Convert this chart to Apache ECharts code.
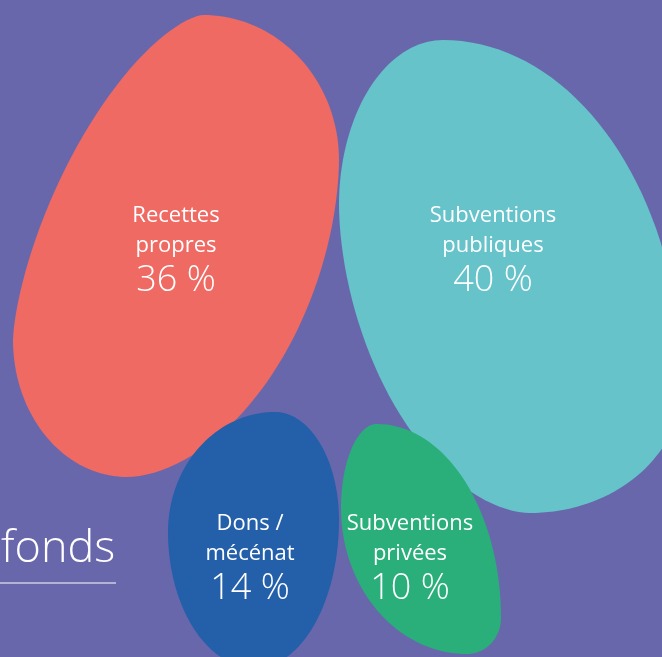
<!DOCTYPE html>
<html>
<head>
<meta charset="utf-8">
<script src="https://cdn.jsdelivr.net/npm/echarts@6/dist/echarts.min.js"></script>
<style>
  html, body { margin: 0; padding: 0; background: #6967ac; }
  #chart { width: 662px; height: 657px; }
</style>
</head>
<body>
<div id="chart"></div>
<script>
// data
const categories = ['Recettes propres', 'Subventions publiques', 'Dons / mécénat', 'Subventions privées'];
const labelLines = [['Recettes', 'propres'], ['Subventions', 'publiques'], ['Dons /', 'mécénat'], ['Subventions', 'privées']];
const shares = [36, 40, 14, 10];

// look
const colors = ['#ee6a63', '#65c3c9', '#2360a9', '#2aae7a'];
// blob outlines in axis units: extreme points (top, right, bottom, left) joined by
// quarter superellipses (roundness per quarter: top-right, right-bottom, bottom-left, left-top)
const blobs = [
  { top: [203, 15], right: [339, 160], bottom: [127, 477], left: [13, 340], round: [2, 1.8, 2, 1.5], label: [176, 252] },
  { top: [443, 40], right: [682, 385], bottom: [530, 513], left: [339, 205], round: [2, 2, 1.8, 2], label: [493, 252] },
  { top: [275, 412], right: [339, 520], bottom: [255, 668], left: [168, 532], round: [2, 2, 2, 2], label: [250, 560] },
  { top: [377, 424], right: [501, 618], bottom: [467, 654], left: [341, 508], round: [2, 2, 2, 2], label: [410, 560] },
];

const chart = echarts.init(document.getElementById('chart'));

// quarter curve from V (horizontal tangent) to H (vertical tangent)
function quarter(V, H, n, reverse, api, out) {
  const steps = 40;
  const e = 2 / n;
  for (let k = 0; k < steps; k++) {
    const f = reverse ? 1 - k / steps : k / steps;
    const phi = f * Math.PI / 2;
    const x = V[0] + (H[0] - V[0]) * Math.pow(Math.sin(phi), e);
    const y = H[1] + (V[1] - H[1]) * Math.pow(Math.cos(phi), e);
    out.push(api.coord([x, y]));
  }
}

function blobPoints(bl, api) {
  const pts = [];
  quarter(bl.top, bl.right, bl.round[0], false, api, pts);
  quarter(bl.bottom, bl.right, bl.round[1], true, api, pts);
  quarter(bl.bottom, bl.left, bl.round[2], false, api, pts);
  quarter(bl.top, bl.left, bl.round[3], true, api, pts);
  return pts;
}

chart.setOption({
  backgroundColor: '#6967ac',
  animation: false,
  grid: { left: 0, right: 0, top: 0, bottom: 0 },
  xAxis: { type: 'value', min: 0, max: 662, show: false },
  yAxis: { type: 'value', min: 0, max: 657, inverse: true, show: false },
  graphic: [
    {
      type: 'text',
      left: 1,
      top: 527,
      style: {
        text: 'fonds',
        fill: '#ffffff',
        font: '300 45px "Open Sans", sans-serif',
      },
    },
    {
      type: 'line',
      shape: { x1: 0, y1: 583, x2: 116, y2: 583 },
      style: { stroke: '#ffffff', lineWidth: 1.2 },
    },
  ],
  series: [
    {
      type: 'custom',
      coordinateSystem: 'cartesian2d',
      data: shares.map((v, i) => [i, v]),
      renderItem: (params, api) => {
        const i = api.value(0);
        const bl = blobs[i];
        const c = api.coord(bl.label);
        const font = '"Open Sans", sans-serif';
        return {
          type: 'group',
          children: [
            {
              type: 'polygon',
              shape: { points: blobPoints(bl, api) },
              style: { fill: colors[i] },
            },
            {
              type: 'text',
              style: {
                text: labelLines[i][0], x: c[0], y: c[1] - 36,
                align: 'center', verticalAlign: 'middle',
                fill: '#fff', font: '22px ' + font,
              },
            },
            {
              type: 'text',
              style: {
                text: labelLines[i][1], x: c[0], y: c[1] - 6,
                align: 'center', verticalAlign: 'middle',
                fill: '#fff', font: '22px ' + font,
              },
            },
            {
              type: 'text',
              style: {
                text: api.value(1) + ' %', x: c[0], y: c[1] + 29,
                align: 'center', verticalAlign: 'middle',
                fill: '#fff', font: '300 36px ' + font,
              },
            },
          ],
        };
      },
    },
  ],
});
</script>
</body>
</html>
